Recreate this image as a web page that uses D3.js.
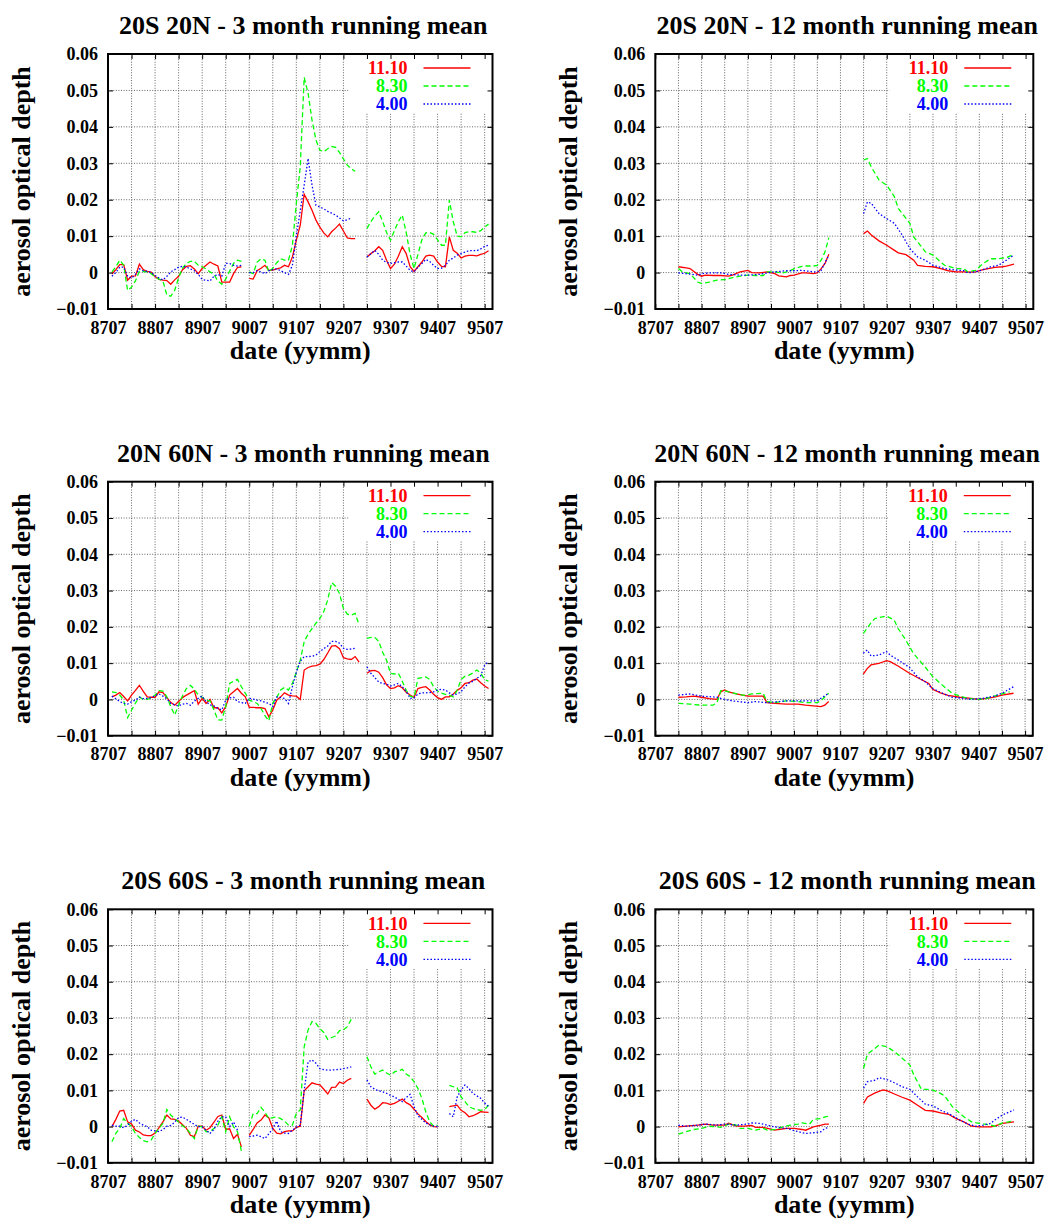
<!DOCTYPE html>
<html>
<head>
<meta charset="utf-8">
<script src="https://cdn.jsdelivr.net/npm/d3@7"></script>
<style>
body { margin: 0; background: #fff; }
svg text { font-family: "Liberation Serif", "Times New Roman", serif; font-weight: bold; }
</style>
</head>
<body>
<div id="chart"></div>
<script>
// Aerosol optical depth anomalies in units of 0.001.
// 3 month running mean: one value per month starting at 8707 (null = no data)
var trop3_1110 = [null,-0.4,0.8,2.2,2.2,-2.1,-1.0,-0.9,2.3,0.8, 0.3,0.1,-1.1,-1.9,-2.1,-2.2,-3.2,-2.0,-1.0,0.8,
    1.7,1.9,1.0,-0.3,1.1,2.0,2.9,2.3,1.8,-2.6, -2.6,-2.6,-0.3,1.4,1.6,null,-1.6,-1.8,0.5,1.2,
    2.0,0.6,0.7,1.0,1.3,2.0,1.6,4.3,8.9,13.0, 21.5,19.4,17.1,14.4,12.5,10.9,9.8,11.2,12.2,13.3,
    11.4,9.5,9.3,9.3,null,null,4.3,5.2,6.0,7.1, 6.1,3.4,1.1,2.3,4.5,7.1,5.2,1.6,0.3,1.6,
    2.9,4.5,4.8,4.5,2.9,1.7,1.6,9.8,6.1,5.3, 4.0,4.5,4.7,4.7,4.6,5.0,5.3,6.0];
var trop3_830 = [null,0.2,1.6,3.4,2.0,-4.9,-4.0,-2.3,0.4,0.3, 0.2,-0.3,-1.2,-1.8,-2.3,-6.2,-6.5,-4.9,-1.4,1.2,
    2.5,3.1,3.1,2.0,1.6,1.0,0.2,-0.5,-2.3,-3.2, -1.8,0.4,2.5,3.4,3.1,null,0.2,-0.3,2.9,3.8,
    3.4,0.2,1.2,2.7,3.8,3.4,3.4,7.5,19.0,29.0, 53.6,49.2,41.8,36.4,33.6,33.2,34.0,34.6,34.4,33.0,
    31.2,29.5,28.5,27.8,null,null,12.1,14.0,15.5,16.7, 14.0,11.0,8.9,11.5,14.0,15.8,11.0,5.0,1.1,5.0,
    9.0,10.9,11.0,10.5,9.0,7.5,7.5,19.9,14.0,10.0, 9.8,11.0,11.2,11.2,11.0,11.5,12.5,13.3];
var trop3_400 = [null,-1.0,0.0,1.5,1.5,-1.0,-1.5,-0.5,1.0,0.5, 0.3,0.0,-0.8,-1.5,-2.0,-1.0,0.2,0.8,1.5,1.7,
    1.5,1.0,0.5,-0.5,-1.9,-2.1,-2.3,-1.0,-0.5,-1.0, 2.5,2.5,2.0,1.8,2.0,null,0.0,0.0,0.5,0.2,
    -0.3,0.5,0.8,1.0,0.5,0.0,-0.5,2.0,10.0,17.0, 24.0,31.3,24.0,18.5,18.0,17.5,16.8,16.3,15.8,15.0,
    14.2,14.5,15.0,null,null,null,4.3,5.2,6.1,5.0, 3.4,2.8,2.5,2.7,2.9,2.9,1.8,0.6,0.2,1.5,
    2.5,3.6,3.0,2.0,1.1,1.2,2.0,3.4,4.0,4.8, 5.2,5.6,6.0,6.0,6.0,6.5,7.2,7.5];

var nh3_1110 = [null,0.7,1.2,1.9,0.8,-0.4,1.2,2.5,3.9,2.2, 0.7,0.6,0.6,2.1,1.9,0.5,-0.8,-1.6,-0.6,0.5,
    1.2,1.8,2.4,-1.3,0.3,-1.1,0.0,-2.3,-2.3,-3.7, -2.0,1.2,2.1,3.0,1.7,0.7,-2.2,-2.2,-2.3,-2.3,
    -2.5,-4.8,-2.9,-0.2,0.7,1.8,1.2,1.0,0.9,0.0, 8.1,8.8,9.2,9.3,9.7,11.0,12.8,14.7,14.8,14.0,
    11.5,11.2,11.0,11.8,10.3,null,7.2,7.9,8.0,7.5, 6.0,4.0,3.0,3.2,3.8,3.2,2.0,1.2,0.6,3.0,
    3.3,3.5,2.6,1.4,0.5,0.0,0.7,0.7,1.5,2.5, 3.2,4.4,4.6,5.3,5.6,4.6,3.7,3.0];
var nh3_830 = [null,2.1,1.9,1.2,-0.2,-5.0,-3.0,-1.0,0.7,0.0, 0.0,0.4,1.2,2.4,2.3,0.7,-2.0,-4.3,-1.6,1.0,
    3.0,3.9,2.8,1.2,0.6,-0.2,-0.4,-2.9,-5.6,-5.7, -2.0,4.4,5.0,5.5,3.5,1.7,-0.2,-0.6,-1.1,-2.5,
    -4.5,-5.9,-1.0,0.5,2.6,3.3,2.6,4.4,7.5,10.8, 15.9,18.0,19.5,21.0,22.3,24.2,27.4,32.2,31.2,29.2,
    25.1,23.5,23.2,23.7,20.5,null,16.8,17.1,17.1,16.0, 13.0,10.8,7.2,7.0,7.2,5.0,2.5,0.9,0.6,5.8,
    6.0,6.2,5.5,3.5,2.3,1.7,1.4,1.2,0.7,2.5, 5.5,6.4,6.7,7.3,8.1,7.2,5.5,5.0];
var nh3_400 = [null,0.9,0.2,-0.6,-1.1,-1.3,-0.6,-0.2,0.6,0.2, 0.3,0.5,1.0,1.5,0.9,0.2,-1.1,-1.5,-1.8,-1.3,
    -1.1,-1.6,-0.5,0.3,0.9,-0.6,-1.5,-1.8,-2.5,-2.9, -0.2,0.4,0.6,-0.6,-0.9,-1.1,0.3,0.1,-0.2,-0.4,
    -0.8,-1.1,-2.0,0.7,0.5,0.3,-1.1,3.5,7.5,10.5, 11.8,11.8,11.9,12.2,13.2,14.0,14.7,16.0,16.0,15.5,
    14.1,13.8,13.9,14.1,null,null,9.0,7.2,6.0,4.8, 4.4,4.2,3.7,4.0,4.4,3.5,2.2,0.3,0.4,1.5,
    1.8,1.8,1.9,2.1,2.6,2.8,2.6,1.8,1.2,1.5, 2.1,3.5,4.5,5.0,5.8,6.5,9.5,10.4];

var sh3_1110 = [null,0.0,2.0,4.3,4.5,1.3,0.7,-1.0,-1.5,-2.3, -2.5,-2.5,-1.8,-0.3,1.3,3.2,2.1,2.0,1.5,0.5,
    -0.5,-2.4,-2.8,0.1,0.1,-1.0,-0.3,1.2,2.8,3.2, -0.8,-0.6,-3.3,-2.1,-5.6,null,-2.4,-0.8,1.0,1.8,
    3.2,2.4,-0.5,-1.8,-2.0,-1.4,-1.2,-1.2,-0.2,0.1, 9.9,11.0,12.1,11.7,11.5,10.3,9.0,10.8,10.9,12.3,
    11.9,12.8,13.3,null,null,null,7.6,5.9,4.8,5.5, 6.6,6.5,6.1,6.4,7.0,7.6,6.6,6.0,4.8,3.5,
    2.5,1.4,0.5,0.0,-0.1,null,null,5.5,5.7,5.9, 4.5,3.8,2.7,3.0,3.5,4.1,4.0,3.9];
var sh3_830 = [null,-4.2,-1.9,-0.5,2.2,0.9,0.0,-1.9,-3.0,-3.9, -4.2,-3.7,-1.9,-0.5,0.9,4.7,3.2,2.2,1.3,0.2,
    -0.5,-1.9,-3.3,0.1,-0.1,-1.4,-1.4,-0.5,0.4,2.7, -1.4,2.7,-0.1,-1.4,-6.8,null,0.1,3.6,3.6,5.3,
    4.0,2.2,2.5,2.7,2.2,1.5,0.4,0.4,3.6,4.6, 22.0,26.7,29.0,28.5,27.0,26.0,24.1,24.6,25.0,26.5,
    26.7,27.6,29.6,null,null,null,19.3,16.5,14.5,15.1, 15.6,14.8,14.2,15.1,15.4,15.8,14.5,13.8,12.4,10.5,
    7.8,4.1,1.3,0.1,0.4,null,null,11.4,11.0,10.7, 8.2,6.9,5.5,5.0,4.7,4.5,4.7,5.9];
var sh3_400 = [null,0.4,0.1,0.1,-0.3,0.4,1.5,2.0,1.0,0.4, 0.0,-1.0,-1.2,-1.4,-0.8,0.1,0.3,1.2,2.5,2.6,
    2.0,1.3,0.6,0.0,0.0,-1.0,-1.9,-0.8,1.5,2.7, 2.7,0.0,1.3,-1.0,null,null,-2.8,-2.6,-2.4,-2.8,
    -3.3,-2.0,-0.5,1.5,-1.4,-1.8,-1.9,-1.0,-0.2,0.4, 10.0,17.9,18.4,17.5,16.0,15.7,15.6,15.6,15.7,15.8,
    16.0,16.2,16.5,null,null,null,12.9,11.0,10.3,9.9, 9.6,9.2,8.6,8.2,7.5,6.9,8.0,8.9,5.5,3.0,
    2.0,1.0,0.5,0.1,0.0,null,null,3.6,2.7,8.2, 10.1,11.5,10.5,9.2,8.5,7.8,6.5,5.5];

// 12 month running mean: [month since 8707, value], [50, null] marks the data gap
var trop12_1110 = [[6,1.6],[8,1.3],[9,1.1],[11,-0.5],[12,-1.0],[13,-0.7],[15,-0.8],[17,-0.8],[19,-1.0],[20,-0.7],
    [22,0.2],[24,0.6],[25,0.0],[27,-0.1],[29,0.2],[31,-0.3],[32,-0.9],[34,-1.2],[35,-0.8],[36,-0.7],[38,-0.1],
    [39,-0.1],[41,-0.3],[42,-0.1],[43,1.1],[44,2.5],[45,5.0],[50,null],[54,10.7],[55,11.4],[56,10.3],[58,8.7],
    [60,7.5],[62,6.1],[63,5.4],[65,4.9],[67,3.4],[68,2.0],[70,1.7],[72,1.6],[74,1.1],[76,0.5],[78,0.2],[80,0.2],
    [82,0.1],[83,0.2],[85,0.8],[88,1.4],[90,1.6],[91,1.8],[93,2.3]];
var trop12_830 = [[6,1.1],[7,0.2],[9,-0.3],[11,-2.6],[12,-3.0],[14,-2.6],[16,-2.1],[18,-1.9],[20,-1.4],[22,-1.0],
    [24,-0.7],[26,-0.8],[28,-0.8],[29,0.2],[31,0.2],[33,-0.1],[35,0.5],[36,1.1],[38,1.7],[39,1.8],[41,1.8],
    [42,2.0],[43,3.4],[44,5.7],[45,9.6],[50,null],[54,30.9],[55,31.3],[56,29.0],[58,25.4],[60,24.0],[62,20.8],
    [63,17.6],[66,13.5],[67,9.8],[69,7.1],[70,5.7],[72,4.8],[74,2.9],[75,2.0],[78,1.1],[80,1.1],[81,0.2],
    [83,0.6],[85,2.5],[87,3.8],[89,3.8],[91,4.1],[93,5.0]];
var trop12_400 = [[6,-0.1],[8,-0.3],[11,-0.7],[12,-0.3],[14,-0.1],[17,-0.1],[19,-0.5],[22,-0.7],[24,-0.7],
    [27,-0.5],[29,-0.1],[31,0.2],[34,0.5],[36,0.5],[38,0.6],[41,0.2],[42,0.2],[43,0.6],[45,4.8],[50,null],
    [54,16.2],[55,19.4],[56,19.0],[58,16.2],[60,14.8],[62,13.5],[64,10.3],[66,6.6],[68,4.3],[70,3.4],[72,2.0],
    [75,1.1],[77,0.8],[80,0.5],[81,-0.1],[83,0.2],[85,0.8],[87,1.6],[89,2.0],[91,3.4],[93,4.8]];

var nh12_1110 = [[6,0.6],[8,0.7],[10,0.9],[12,0.6],[14,0.2],[16,0.0],[17,2.1],[18,2.6],[19,2.1],[21,1.5],
    [23,1.1],[24,0.9],[27,0.9],[28,0.9],[29,-0.9],[31,-1.1],[34,-1.3],[37,-1.3],[39,-1.6],[41,-1.8],[43,-2.0],
    [44,-1.6],[45,-0.6],[50,null],[54,7.0],[55,8.5],[56,9.5],[58,9.9],[60,10.7],[61,10.4],[63,9.2],[66,7.2],
    [69,5.5],[71,4.4],[72,2.8],[74,1.8],[76,1.1],[79,0.6],[82,0.3],[84,0.0],[86,0.3],[88,0.6],[90,1.2],[93,1.7]];
var nh12_830 = [[6,-1.1],[9,-1.3],[12,-1.6],[15,-1.6],[16,-0.9],[17,2.4],[18,2.4],[20,1.8],[23,1.1],[25,1.5],
    [28,1.7],[29,-0.6],[31,-0.9],[34,-0.4],[37,-0.6],[39,-0.9],[42,-0.9],[43,-0.4],[45,1.7],[50,null],
    [54,18.2],[56,21.1],[57,22.3],[60,23.0],[62,21.9],[63,19.6],[65,16.4],[67,12.7],[70,9.0],[72,6.3],
    [75,3.5],[77,1.7],[80,0.6],[82,0.2],[84,0.0],[86,0.3],[88,0.9],[90,1.5],[92,2.1]];
var nh12_400 = [[6,1.2],[9,1.5],[12,0.9],[16,0.6],[18,0.0],[20,-0.4],[24,-0.9],[26,-0.6],[29,-0.9],[31,-0.7],
    [34,-0.4],[37,-0.4],[39,-0.4],[42,-0.4],[43,0.3],[45,1.7],[50,null],[54,12.7],[55,13.6],[56,12.0],
    [58,12.2],[60,13.2],[61,12.2],[63,10.9],[66,8.8],[68,6.3],[70,4.9],[72,3.0],[75,1.5],[77,0.6],[80,0.3],
    [82,0.0],[85,0.3],[88,0.9],[90,1.7],[93,3.5]];

var sh12_1110 = [[6,-0.1],[8,0.1],[11,0.4],[13,0.7],[15,0.4],[18,0.4],[19,0.9],[21,0.1],[23,0.1],[25,0.3],
    [26,-0.2],[28,-0.2],[31,-1.0],[32,-0.8],[34,-0.5],[36,-0.5],[38,-0.8],[39,-1.0],[41,-0.1],[43,0.4],
    [44,0.7],[45,0.7],[50,null],[54,6.4],[55,8.2],[57,9.3],[59,10.1],[60,9.9],[62,9.0],[64,8.1],[66,7.3],
    [68,5.9],[70,4.5],[72,4.3],[74,3.8],[76,3.4],[78,2.2],[80,1.3],[82,0.1],[84,-0.1],[87,-0.1],[88,0.1],
    [90,0.9],[93,1.3]];
var sh12_830 = [[6,-2.1],[8,-1.4],[10,-0.8],[12,-0.5],[14,0.1],[17,-0.2],[19,0.7],[21,0.4],[22,-0.5],[24,-0.5],
    [26,-1.0],[28,-0.5],[29,-1.0],[31,-0.8],[33,-0.1],[35,0.4],[37,0.7],[38,1.0],[40,0.7],[41,2.0],[43,2.2],
    [44,2.7],[45,2.9],[50,null],[54,16.1],[55,20.0],[57,21.6],[58,22.5],[60,22.1],[62,20.7],[64,18.9],
    [66,17.0],[67,14.3],[69,10.3],[71,10.3],[73,9.7],[75,8.5],[77,5.5],[80,2.7],[82,1.3],[84,0.9],[87,0.4],
    [88,0.1],[90,1.0],[93,1.6]];
var sh12_400 = [[6,0.4],[8,0.1],[11,0.4],[13,0.7],[16,0.4],[18,0.7],[21,0.4],[24,0.7],[25,1.0],[27,0.9],
    [29,0.4],[31,-0.1],[34,-0.5],[37,-1.4],[39,-1.9],[41,-1.7],[43,-1.4],[44,-0.5],[45,-0.2],[50,null],
    [54,10.6],[55,12.4],[57,12.8],[58,13.5],[60,13.0],[62,12.1],[64,11.0],[66,10.3],[68,8.2],[70,6.2],
    [72,5.7],[74,4.5],[76,3.6],[79,1.8],[81,0.7],[83,0.1],[85,0.4],[87,0.9],[88,1.8],[90,3.2],[93,4.6]];

var channels = ["11.10", "8.30", "4.00"];
var titles = ["20S 20N - 3 month running mean", "20S 20N - 12 month running mean",
              "20N 60N - 3 month running mean", "20N 60N - 12 month running mean",
              "20S 60S - 3 month running mean", "20S 60S - 12 month running mean"];
var yTicks = [-10, 0, 10, 20, 30, 40, 50, 60];   // in 0.001
var xTicks = d3.range(0, 97, 6);                  // months since 8707

// monthly arrays -> [month, value] pairs
function monthly(values) {
    return values.map(function(v, i) { return [i, v]; });
}

var panelSeries = [
    [monthly(trop3_1110), monthly(trop3_830), monthly(trop3_400)],
    [trop12_1110, trop12_830, trop12_400],
    [monthly(nh3_1110), monthly(nh3_830), monthly(nh3_400)],
    [nh12_1110, nh12_830, nh12_400],
    [monthly(sh3_1110), monthly(sh3_830), monthly(sh3_400)],
    [sh12_1110, sh12_830, sh12_400]
];

var colors = ["#ff0000", "#00ff00", "#0000ff"];
var dashes = [null, "5,3", "1.5,2"];
var serif = '"Liberation Serif", "Times New Roman", serif';

// plot frames of the six panels
var frames = [
    {left: 108, top: 54, width: 384.5, height: 255},
    {left: 655.3, top: 54, width: 378, height: 255},
    {left: 108, top: 481.7, width: 384.5, height: 254},
    {left: 655.3, top: 481.7, width: 377.5, height: 254},
    {left: 108, top: 909.3, width: 384.5, height: 253.5},
    {left: 655.3, top: 909.3, width: 378, height: 253.5}
];

var svg = d3.select("#chart").append("svg")
    .attr("width", 1052)
    .attr("height", 1219);

function yTickLabel(d) {
    return d === 0 ? "0" : d3.format(".2f")(d / 1000);
}

function xTickLabel(m) {
    return m % 12 === 0 ? String(8707 + m / 12 * 100) : "";
}

function drawPanel(index) {
    var f = frames[index];
    var right = f.left + f.width, bottom = f.top + f.height;
    var g = svg.append("g");

    var xScale = d3.scaleLinear().domain([0, 98]).range([f.left, right]);
    var yScale = d3.scaleLinear().domain([-10, 60]).range([bottom, f.top]);

    //dotted grid
    var grid = g.append("g")
        .attr("stroke", "#666")
        .attr("stroke-width", 1)
        .attr("stroke-dasharray", "1,1.6");
    grid.selectAll("line.v")
        .data(xTicks.filter(function(d) { return d > 0; }))
        .enter().append("line")
        .attr("x1", function(d) { return xScale(d); })
        .attr("x2", function(d) { return xScale(d); })
        .attr("y1", f.top)
        .attr("y2", bottom);
    grid.selectAll("line.h")
        .data(yTicks.filter(function(d) { return d > -10 && d < 60; }))
        .enter().append("line")
        .attr("x1", f.left)
        .attr("x2", right)
        .attr("y1", function(d) { return yScale(d); })
        .attr("y2", function(d) { return yScale(d); });

    //key area hides the grid
    g.append("rect")
        .attr("x", right - 144)
        .attr("y", f.top)
        .attr("width", 144)
        .attr("height", 59)
        .attr("fill", "#fff");

    //data lines
    var line = d3.line()
        .defined(function(d) { return d[1] != null; })
        .x(function(d) { return xScale(d[0]); })
        .y(function(d) { return yScale(d[1]); });

    panelSeries[index].forEach(function(series, i) {
        g.append("path")
            .datum(series)
            .attr("d", line)
            .attr("fill", "none")
            .attr("stroke", colors[i])
            .attr("stroke-width", 1.3)
            .attr("stroke-dasharray", dashes[i]);
    });

    //axes: ticks point inward, mirrored on top and right
    g.append("g")
        .attr("transform", "translate(" + f.left + ",0)")
        .call(d3.axisLeft(yScale).tickValues(yTicks).tickSize(-5).tickPadding(10).tickFormat(yTickLabel));
    g.append("g")
        .attr("transform", "translate(0," + bottom + ")")
        .call(d3.axisBottom(xScale).tickValues(xTicks).tickSize(-5).tickPadding(12).tickFormat(xTickLabel));
    g.append("g")
        .attr("transform", "translate(" + right + ",0)")
        .call(d3.axisRight(yScale).tickValues(yTicks).tickSize(-5).tickFormat(""));
    g.append("g")
        .attr("transform", "translate(0," + f.top + ")")
        .call(d3.axisTop(xScale).tickValues(xTicks).tickSize(-5).tickFormat(""));
    g.selectAll(".domain").remove();
    g.selectAll(".tick line").attr("stroke", "#000").attr("stroke-width", 1);
    g.selectAll(".tick text")
        .attr("fill", "#000")
        .style("font-family", serif)
        .style("font-weight", "bold")
        .style("font-size", "18px");

    //border
    g.append("rect")
        .attr("x", f.left)
        .attr("y", f.top)
        .attr("width", f.width)
        .attr("height", f.height)
        .attr("fill", "none")
        .attr("stroke", "#000")
        .attr("stroke-width", 2);

    //key
    channels.forEach(function(name, i) {
        var ky = f.top + 14 + 18 * i;
        g.append("text")
            .attr("x", right - 85)
            .attr("y", ky)
            .attr("dy", "0.35em")
            .attr("text-anchor", "end")
            .attr("fill", colors[i])
            .style("font-size", "18px")
            .text(name);
        g.append("line")
            .attr("x1", right - 69)
            .attr("x2", right - 22)
            .attr("y1", ky)
            .attr("y2", ky)
            .attr("stroke", colors[i])
            .attr("stroke-width", 1.3)
            .attr("stroke-dasharray", dashes[i]);
    });

    //titles and axis labels
    g.append("text")
        .attr("x", (f.left + right) / 2 + 3)
        .attr("y", f.top - 20)
        .attr("text-anchor", "middle")
        .style("font-size", "26px")
        .text(titles[index]);
    g.append("text")
        .attr("x", (f.left + right) / 2)
        .attr("y", bottom + 50)
        .attr("text-anchor", "middle")
        .style("font-size", "26px")
        .text("date (yymm)");
    g.append("text")
        .attr("transform", "translate(" + (f.left - 78) + "," + (f.top + bottom) / 2 + ") rotate(-90)")
        .attr("text-anchor", "middle")
        .style("font-size", "26px")
        .text("aerosol optical depth");
}

for (var i = 0; i < frames.length; i++) {
    drawPanel(i);
}
</script>
</body>
</html>
